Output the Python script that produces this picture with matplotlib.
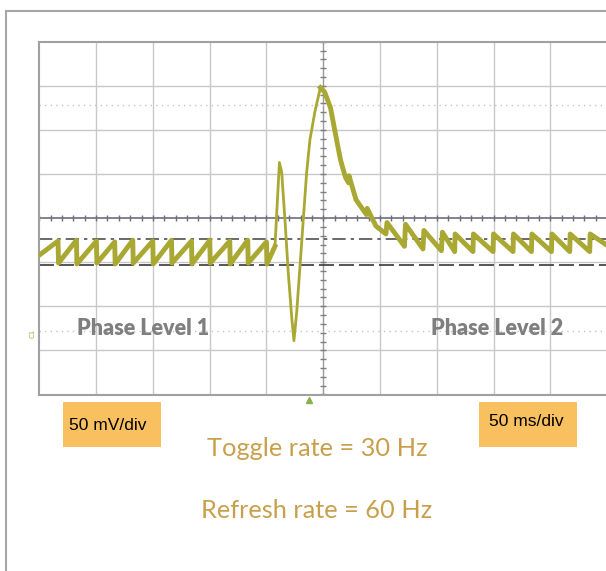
import matplotlib.pyplot as plt
from matplotlib.patches import Rectangle
from matplotlib.lines import Line2D
import numpy as np

# scope trace (time in ms, voltage in mV)
trace_t = [0, 16.5, 16.9, 32.7, 33.1, 50.3, 50.7, 66.4, 66.8, 82.3, 82.7, 99.9, 100.3,
           116.4, 116.8, 134.0, 134.4, 150.1, 150.5, 167.7, 168.1, 183.5, 183.9, 200.0, 200.4,
           207.5, 211.4, 213.4, 216.3, 219.2, 222.2, 224.2, 226.6, 229.5, 232.4, 235.4, 238.3,
           242.7, 247.5, 251.2, 256.4, 261.7, 265.2, 269.6, 272.3, 272.7, 278.8, 288.0, 288.7,
           296.4, 305.2, 306.1, 321.5, 322.4, 337.8, 338.6, 354.0, 354.9, 365.7, 366.1, 381.8,
           382.2, 399.5, 399.9, 417.1, 417.5, 433.3, 433.7, 450.9, 451.3, 467.0, 467.4, 484.6,
           485.0, 500]
trace_v = [-42, -26, -51, -25, -52, -26, -51, -27, -52, -25, -51, -26, -52,
           -25, -51, -26, -52, -25, -51, -26, -52, -25, -51, -27, -52,
           -32, 63, 52, -2, -62, -112, -139, -107, -55, -2, 52, 89,
           121, 148, 143, 125, 89, 66, 46, 40, 48, 21, 4, 11,
           -9, -18, -5, -32, -7, -35, -14, -37, -16, -38, -18, -38,
           -18, -38, -18, -38, -18, -38, -18, -38, -18, -38, -18, -38,
           -18, -31]

# reference / cursor levels (mV)
dash_dot_level = -23.6
dashed_level = -52.7
cursor_levels = [128.7, -127.6]

W, H = 606, 571
fig = plt.figure(figsize=(W / 100, H / 100), dpi=100)

def fx(px):
    return px / W

def fy(py):
    return 1 - py / H

# outer frame of the slide
fig.add_artist(Line2D([fx(5.5), fx(5.5)], [fy(11), 0], color='#a6a6a6', lw=1.5))
fig.add_artist(Line2D([fx(5.5), 1], [fy(11), fy(11)], color='#a6a6a6', lw=1.5))

ax = fig.add_axes([fx(39.3), fy(394.5), (607.2 - 39.3) / W, (394.5 - 41.7) / H])
ax.set_xlim(0, 500)
ax.set_ylim(-200, 200)

# graticule
for x in np.arange(50, 500, 50):
    if x != 250:
        ax.axvline(x, color='#c8c8c8', lw=1, zorder=1)
for y in np.arange(-150, 200, 50):
    if y != 0:
        ax.axhline(y, color='#c8c8c8', lw=1, zorder=1)
ax.axhline(0, color='#6e6e7e', lw=1.2, zorder=1)
ax.axvline(250, color='#9a9a9a', lw=1, zorder=1)
ax.plot(np.arange(0, 501, 10), np.zeros(51), ls='none', marker='|', ms=4,
        mew=1, color='#6e6e7e', zorder=1)
ax.plot(np.full(41, 250), np.arange(-200, 201, 10), ls='none', marker='_', ms=4,
        mew=1, color='#7e7e7e', zorder=1)
for c in cursor_levels:
    ax.axhline(c, color='#c4c4c4', lw=1, ls=(0, (1, 3)), zorder=1)

ax.axhline(dash_dot_level, color='#505050', lw=1.2, ls=(0, (8, 3, 2, 3)), zorder=2)
ax.axhline(dashed_level, color='#383838', lw=1.2, ls=(0, (9, 3)), zorder=2)

for s in ['left', 'top', 'bottom']:
    ax.spines[s].set_color('#a0a0a0')
    ax.spines[s].set_linewidth(1.5)
ax.spines['right'].set_visible(False)
ax.set_xticks([])
ax.set_yticks([])

trace_color = '#a9a832'
ax.plot(trace_t, trace_v, color=trace_color, lw=2, zorder=3)
ax.plot(trace_t[:26], trace_v[:26], color=trace_color, lw=3.5, zorder=3)
ax.plot(trace_t[38:], trace_v[38:], color=trace_color, lw=3.5, zorder=3)

# labels inside the screen
ax.text(91.3, -125, 'Phase Level 1', fontsize=15.5, fontweight='heavy',
        color='#7f7f7f', family=['Lato', 'DejaVu Sans'], ha='center', va='center', zorder=4)
ax.text(402.9, -125, 'Phase Level 2', fontsize=15.5, fontweight='heavy',
        color='#7f7f7f', family=['Lato', 'DejaVu Sans'], ha='center', va='center', zorder=4)

# channel and trigger markers
fig.text(fx(33), fy(333), 'C1', fontsize=5, color=trace_color, rotation=90,
         ha='center', va='center')
fig.add_artist(Line2D([fx(309)], [fy(400)], marker='^', ms=5, color='#88b048', ls='none'))

# scale boxes
fig.add_artist(Rectangle((fx(63), fy(447)), (161 - 63) / W, (447 - 402) / H,
                         facecolor='#f9c060', edgecolor='none'))
fig.add_artist(Rectangle((fx(479), fy(447)), (577 - 479) / W, (447 - 402) / H,
                         facecolor='#f9c060', edgecolor='none'))
box_font = ['Liberation Sans', 'DejaVu Sans']
fig.text(fx(108), fy(425), '50 mV/div', fontsize=12.5, color='black',
         family=box_font, ha='center', va='center')
fig.text(fx(526), fy(421), '50 ms/div', fontsize=12.5, color='black',
         family=box_font, ha='center', va='center')

fig.text(fx(317), fy(448), 'Toggle rate = 30 Hz', fontsize=18.3, color='#c8a04c',
         family=['Lato', 'DejaVu Sans'], ha='center', va='center')
fig.text(fx(317), fy(510), 'Refresh rate = 60 Hz', fontsize=18.3, color='#c8a04c',
         family=['Lato', 'DejaVu Sans'], ha='center', va='center')

fig.savefig('out.png', dpi=100)
